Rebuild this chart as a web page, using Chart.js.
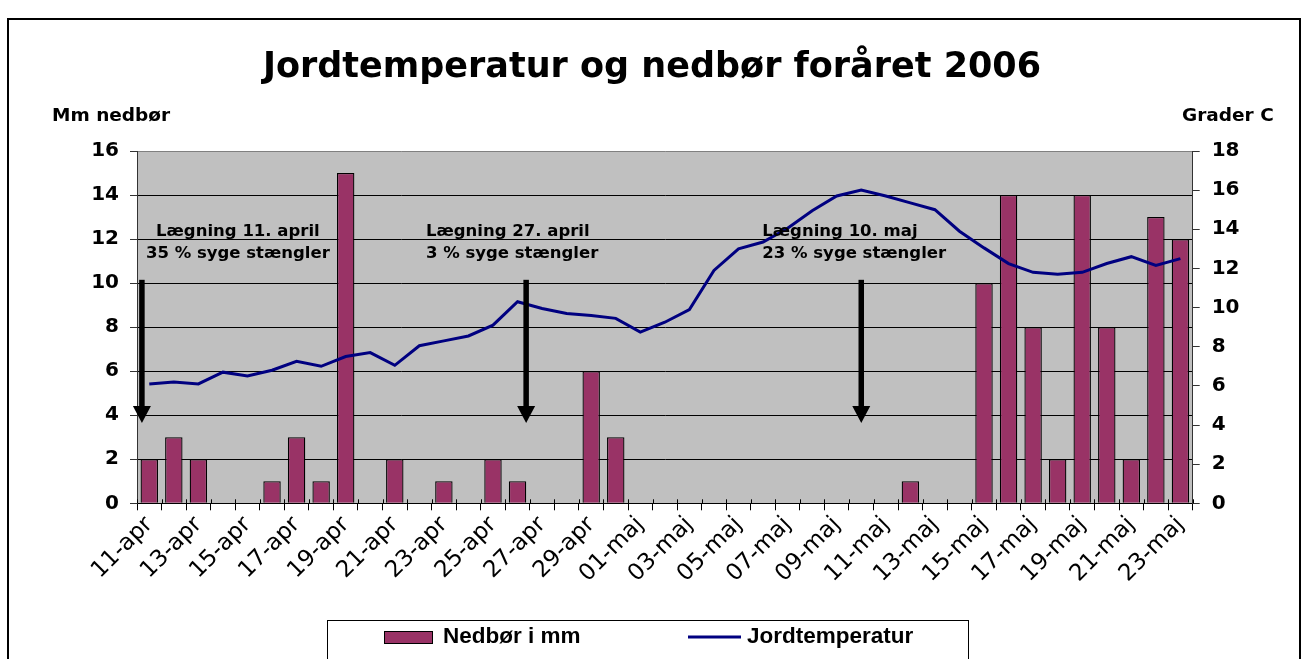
<!DOCTYPE html>
<html><head><meta charset="utf-8">
<script src="https://cdn.jsdelivr.net/npm/chart.js@4.4.1/dist/chart.umd.min.js"></script>
<style>html,body{margin:0;padding:0;background:#fff;overflow:hidden}#wrap{width:1306px;height:659px;position:relative}</style>
</head><body><div id="wrap"><canvas id="c" width="1306" height="659"></canvas></div>
<script>
// ---- data ----
const categories = ['11-apr','12-apr','13-apr','14-apr','15-apr','16-apr','17-apr','18-apr','19-apr','20-apr',
  '21-apr','22-apr','23-apr','24-apr','25-apr','26-apr','27-apr','28-apr','29-apr','30-apr',
  '01-maj','02-maj','03-maj','04-maj','05-maj','06-maj','07-maj','08-maj','09-maj','10-maj',
  '11-maj','12-maj','13-maj','14-maj','15-maj','16-maj','17-maj','18-maj','19-maj','20-maj',
  '21-maj','22-maj','23-maj'];
const rainMm = [2,3,2,0,0,1,3,1,15,0, 2,0,1,0,2,1,0,0,6,3, 0,0,0,0,0,0,0,0,0,0, 0,1,0,0,10,14,8,2,14,8, 2,13,12];
const soilTemp = [6.1,6.2,6.1,6.7,6.5,6.8,7.25,7.0,7.5,7.7, 7.05,8.05,8.3,8.55,9.1,10.3,9.95,9.7,9.6,9.45,
  8.75,9.25,9.9,11.9,13.0,13.35,14.05,14.95,15.7,16.0, 15.7,15.35,15.0,13.9,13.05,12.25,11.8,11.7,11.8,12.25,
  12.6,12.15,12.5];
const leftTicks = [0,2,4,6,8,10,12,14,16];
const rightTicks = [0,2,4,6,8,10,12,14,16,18];
const seriesNames = ['Nedbør i mm','Jordtemperatur'];
const titleText = 'Jordtemperatur og nedbør foråret 2006';
const leftAxisTitle = 'Mm nedbør';
const rightAxisTitle = 'Grader C';
const noteLines = [['Lægning 11. april','35 % syge stængler'],['Lægning 27. april','3 % syge stængler'],['Lægning 10. maj','23 % syge stængler']];
const arrowIndex = [-0.3, 15.35, 29];
const arrowTopValue = 10.15, arrowTipValue = 3.65;

// ---- plugin for decorations ----
const deco = {
  id:'deco',
  beforeDraw(chart){
    const ctx = chart.ctx, a = chart.chartArea;
    ctx.save();
    ctx.fillStyle = '#fff'; ctx.fillRect(0,0,chart.width,chart.height);
    ctx.fillStyle = '#C0C0C0'; ctx.fillRect(a.left,a.top,a.right-a.left,a.bottom-a.top);
    ctx.strokeStyle = '#000'; ctx.lineWidth = 2;
    ctx.strokeRect(8,19,1292,700);
    ctx.restore();
  },
  afterDatasetsDraw(chart){
    const ctx = chart.ctx, xs = chart.scales.x, ys = chart.scales.y;
    ctx.save();
    arrowIndex.forEach(i=>{
      const x = xs.getPixelForValue(i);
      const yt = ys.getPixelForValue(arrowTopValue), yp = ys.getPixelForValue(arrowTipValue);
      ctx.fillStyle = '#000';
      ctx.fillRect(x-2.75, yt, 5.5, (yp-17)-yt+1);
      ctx.beginPath(); ctx.moveTo(x-9, yp-17); ctx.lineTo(x+9, yp-17); ctx.lineTo(x, yp); ctx.closePath(); ctx.fill();
    });
    ctx.font = 'bold 16.5px "DejaVu Sans"';
    ctx.fillStyle = '#000'; ctx.textBaseline = 'alphabetic';
    const l1 = ys.getPixelForValue(12.12), l2 = ys.getPixelForValue(11.15);
    ctx.textAlign = 'center';
    let cx = xs.getPixelForValue(3.61);
    ctx.fillText(noteLines[0][0], cx, l1); ctx.fillText(noteLines[0][1], cx, l2);
    ctx.textAlign = 'left';
    let lx = xs.getPixelForValue(11.27);
    ctx.fillText(noteLines[1][0], lx, l1); ctx.fillText(noteLines[1][1], lx, l2);
    lx = xs.getPixelForValue(24.97);
    ctx.fillText(noteLines[2][0], lx, l1); ctx.fillText(noteLines[2][1], lx, l2);
    ctx.restore();
  },
  afterDraw(chart){
    const ctx = chart.ctx, xs = chart.scales.x;
    ctx.save();
    // small upward part of the crossing category tick marks
    ctx.strokeStyle = '#000'; ctx.lineWidth = 1;
    for (let i = 0; i <= categories.length; i++) {
      const x = Math.round(xs.getPixelForValue(i - 0.5)) + 0.5;
      ctx.beginPath(); ctx.moveTo(x, xs.top - 4); ctx.lineTo(x, xs.top); ctx.stroke();
    }
    ctx.fillStyle = '#000';
    ctx.font = 'bold 35px "DejaVu Sans"'; ctx.textAlign = 'center'; ctx.textBaseline = 'alphabetic';
    ctx.fillText(titleText, 652, 77);
    ctx.font = 'bold 18.5px "DejaVu Sans"'; ctx.textAlign = 'left';
    ctx.fillText(leftAxisTitle, 52, 121);
    ctx.fillText(rightAxisTitle, 1182, 121);
    // legend
    ctx.lineWidth = 1; ctx.strokeStyle = '#000';
    ctx.strokeRect(327.5, 620.5, 641, 60);
    const ds = chart.data.datasets;
    ctx.font = 'bold 22.5px "Liberation Sans"'; ctx.textBaseline = 'middle';
    const ly = 637;
    ctx.fillStyle = ds[0].backgroundColor; ctx.fillRect(384, ly-6, 48, 12);
    ctx.strokeRect(384.5, ly-5.5, 48, 12);
    ctx.fillStyle = '#000'; ctx.fillText(ds[0].label, 443, ly);
    ctx.strokeStyle = ds[1].borderColor; ctx.lineWidth = 3;
    ctx.beginPath(); ctx.moveTo(688, ly); ctx.lineTo(741, ly); ctx.stroke();
    ctx.fillText(ds[1].label, 747, ly);
    ctx.restore();
  }
};

const tickFont = {family:'"DejaVu Sans"', size:20, weight:'bold'};
new Chart(document.getElementById('c'), {
  data:{
    labels: categories,
    datasets:[
      {type:'bar', label:seriesNames[0], data:rainMm, yAxisID:'y', backgroundColor:'#993366', borderColor:'#000', borderWidth:1.3,
       categoryPercentage:1, barPercentage:0.71, order:1},
      {type:'line', label:seriesNames[1], data:soilTemp, yAxisID:'y1', borderColor:'#000080', borderWidth:3,
       pointRadius:0, tension:0, fill:false, order:0}
    ]
  },
  options:{
    responsive:false, animation:false, devicePixelRatio:1,
    layout:{padding:{top:151,left:0,right:0,bottom:0}},
    plugins:{legend:{display:false}, title:{display:false}, tooltip:{enabled:false}},
    scales:{
      x:{
        offset:true,
        grid:{drawOnChartArea:false, offset:true, tickLength:7, color:'#000'},
        border:{display:true, color:'#000', width:1},
        ticks:{autoSkip:false, maxRotation:45, minRotation:45, padding:1, color:'#000',
          font:{family:'"DejaVu Sans"', size:23},
          callback:(v,i)=> i%2===0 ? categories[i] : ''},
        afterFit(s){ s.height = 659-503.3; }
      },
      y:{
        position:'left', min:0, max:16,
        afterBuildTicks(s){ s.ticks = leftTicks.map(v=>({value:v})); },
        grid:{color:(c)=> c.tick && c.tick.value===16 ? '#808080' : '#000', lineWidth:1, tickLength:7, tickColor:'#333'},
        border:{display:true, color:'#333', width:1},
        ticks:{color:'#000', font:tickFont, padding:11},
        afterFit(s){ s.width = 137; }
      },
      y1:{
        position:'right', min:0, max:18,
        afterBuildTicks(s){ s.ticks = rightTicks.map(v=>({value:v})); },
        grid:{drawOnChartArea:false, tickLength:7, color:'#333'},
        border:{display:true, color:'#333', width:1},
        ticks:{color:'#000', font:tickFont, padding:12},
        afterFit(s){ s.width = 1306-1192.7; }
      }
    }
  },
  plugins:[deco]
});
</script></body></html>
